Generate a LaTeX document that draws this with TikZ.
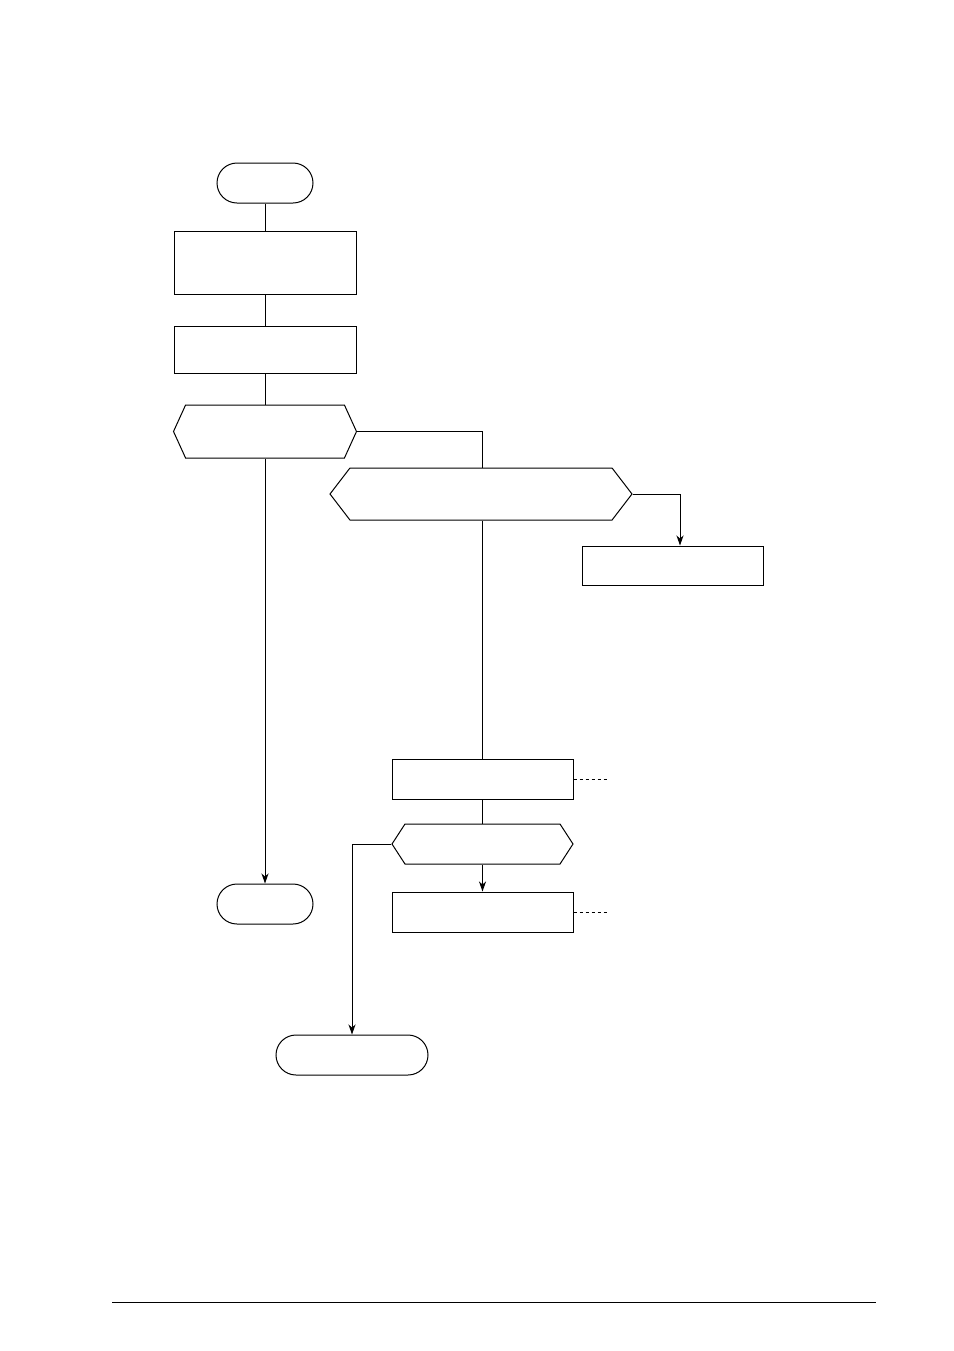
\documentclass[tikz,border=0pt]{standalone}
\usetikzlibrary{shapes.symbols,arrows.meta}
\begin{document}
\begin{tikzpicture}[x=0.5pt,y=-0.5pt,line width=0.5pt,
    termbox/.style={draw,rectangle,rounded corners=10pt,minimum height=20pt},
    procbox/.style={draw,rectangle,minimum width=90.5pt},
    testbox/.style={draw,signal,signal to=west and east,signal pointer angle=#1},
    >={Stealth[length=5pt,width=3.5pt,inset=1.5pt]}]
      \useasboundingbox (0,0) rectangle (954,1351);
      % left column
      \node[termbox,minimum width=48pt] (start) at (265,183) {};
      \node[procbox,minimum width=91pt,minimum height=31.5pt] (init) at (265,262.5) {};
      \node[procbox,minimum width=91pt,minimum height=23.5pt] (prep) at (265,349.5) {};
      \node[testbox=131,minimum width=91.5pt,minimum height=26.5pt] (test1) at (265,431.5) {};
      \node[termbox,minimum width=48pt] (stop1) at (265,904) {};
      % right branch
      \node[testbox=105,minimum width=151pt,minimum height=26pt] (test2) at (481,494) {};
      \node[procbox,minimum height=19.5pt] (side) at (672.5,565.5) {};
      \node[procbox,minimum height=20pt] (work1) at (482.5,779) {};
      \node[testbox=114,minimum width=90.5pt,minimum height=20pt] (test3) at (482.5,844) {};
      \node[procbox,minimum height=20pt] (work2) at (482.5,912) {};
      \node[termbox,minimum width=76pt] (stop2) at (352,1055) {};
      \coordinate (note1) at (607,779);
      \coordinate (note2) at (607,912);
      % connectors
      \draw (start) -- (init);
      \draw (init) -- (prep);
      \draw (prep) -- (test1);
      \draw[->] (test1) -- (stop1);
      \draw (test1.east) -| (work1.north |- test2.north);
      \draw[->] (test2.east) -| ([xshift=3.75pt]side.north);
      \draw (work1.north |- test2.south) -- (work1);
      \draw (work1) -- (test3);
      \draw[->] (test3) -- (work2);
      \draw[->] (test3.west) -| (stop2.north);
      \draw[dash pattern=on 1.5pt off 1.5pt] (work1.east) -- (note1);
      \draw[dash pattern=on 1.5pt off 1.5pt] (work2.east) -- (note2);
      % footer rule
      \draw (112,1302) -- (876,1302);
\end{tikzpicture}
\end{document}
